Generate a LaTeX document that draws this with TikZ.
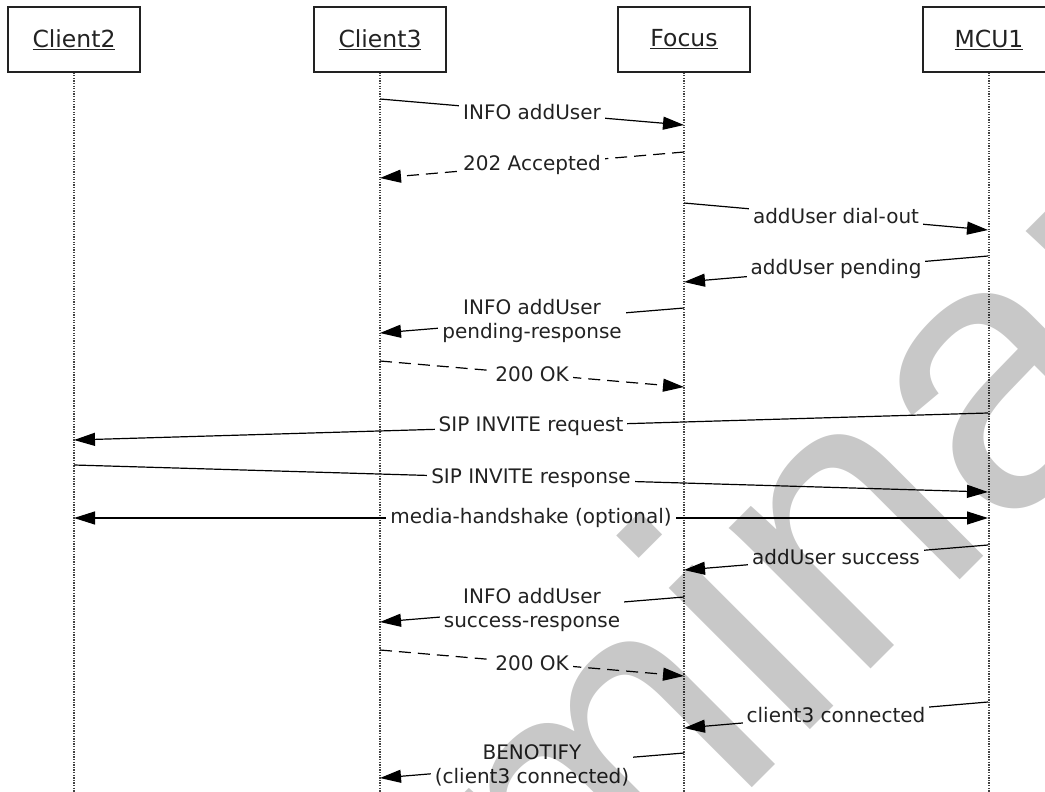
\documentclass[tikz,border=0pt]{standalone}
\usepackage{fontspec}
\setmainfont{DejaVu Sans}
\newfontfamily\wmfont{Liberation Sans}
\usetikzlibrary{arrows.meta}
\definecolor{ink}{RGB}{34,34,34}
\definecolor{wm}{RGB}{200,200,200}
\begin{document}
\begin{tikzpicture}[x=1pt,y=-1pt,
  actor/.style={draw=ink, line width=1.2pt, minimum width=132pt, minimum height=65pt, inner sep=0pt, font=\fontsize{23.5}{27}\selectfont, text=ink},
  lifeline/.style={draw=ink!85, line width=1.1pt, dash pattern=on 1.3pt off 1.3pt},
  msg/.style={draw=black, line width=1.2pt, -{Triangle[length=21pt,width=13pt]}},
  reply/.style={msg, dash pattern=on 12pt off 7pt},
  both/.style={msg, {Triangle[length=21pt,width=13pt]}-{Triangle[length=21pt,width=13pt]}},
  lbl/.style={fill=white, inner xsep=4pt, inner ysep=1pt, text=ink, font=\fontsize{20}{24}\selectfont, align=center},
]
\path[use as bounding box] (0,0) rectangle (1045,792);
\clip (0,0) rectangle (1045,792);

% actors
\node[actor] (c2) at (74,39.5) {\underline{Client2}};
\node[actor] (c3) at (380,39.5) {\underline{Client3}};
\node[actor] (fo) at (684,39.5) {\underline{Focus}};
\node[actor] (mc) at (989,39.5) {\underline{MCU1}};

% lifelines
\coordinate (bot) at (0,800);
\draw[lifeline] (c2.south) -- (c2.south |- bot);
\draw[lifeline] (c3.south) -- (c3.south |- bot);
\draw[lifeline] (fo.south) -- (fo.south |- bot);
\draw[lifeline] (mc.south) -- (mc.south |- bot);

% message end points on the lifelines
\coordinate (a1) at (380,99);  \coordinate (b1) at (684,125);
\coordinate (a2) at (684,152); \coordinate (b2) at (380,178);
\coordinate (a3) at (684,203); \coordinate (b3) at (988,230);
\coordinate (a4) at (988,256); \coordinate (b4) at (684,282);
\coordinate (a5) at (684,308); \coordinate (b5) at (380,333);
\coordinate (a6) at (380,361); \coordinate (b6) at (684,387);
\coordinate (a7) at (988,413); \coordinate (b7) at (74,440);
\coordinate (a8) at (74,465);  \coordinate (b8) at (988,492);
\coordinate (a9) at (74,518);  \coordinate (b9) at (988,518);
\coordinate (a10) at (988,545); \coordinate (b10) at (684,570);
\coordinate (a11) at (684,597); \coordinate (b11) at (380,622);
\coordinate (a12) at (380,650); \coordinate (b12) at (684,676);
\coordinate (a13) at (988,702); \coordinate (b13) at (684,728);
\coordinate (a14) at (684,753); \coordinate (b14) at (380,778);

% messages
\draw[msg]   (a1) -- node[lbl] (l1) {INFO addUser} (b1);
\draw[reply] (a2) -- node[lbl] (l2) {202 Accepted} (b2);
\draw[msg]   (a3) -- node[lbl] (l3) {addUser dial-out} (b3);
\draw[msg]   (a4) -- node[lbl] (l4) {addUser pending} (b4);
\draw[msg]   (a5) -- node[lbl] (l5) {INFO addUser\\pending-response} (b5);
\draw[reply] (a6) -- node[lbl] (l6) {200 OK} (b6);
\draw[msg]   (a7) -- node[lbl] (l7) {SIP INVITE request} (b7);
\draw[msg]   (a8) -- node[lbl] (l8) {SIP INVITE response} (b8);
\draw[both]  (a9) -- node[lbl] (l9) {media-handshake (optional)} (b9);
\draw[msg]   (a10) -- node[lbl] (l10) {addUser success} (b10);
\draw[msg]   (a11) -- node[lbl] (l11) {INFO addUser\\success-response} (b11);
\draw[reply] (a12) -- node[lbl] (l12) {200 OK} (b12);
\draw[msg]   (a13) -- node[lbl] (l13) {client3 connected} (b13);
\draw[msg]   (a14) -- node[lbl] (l14) {BENOTIFY\\(client3 connected)} (b14);

% watermark
\begin{scope}[blend mode=multiply]
\node[rotate=45, anchor=base, text=wm, inner sep=0pt, font=\wmfont\fontsize{378}{378}\selectfont] (wmk) at (704,836) {Preliminary};
\end{scope}
\end{tikzpicture}
\end{document}
